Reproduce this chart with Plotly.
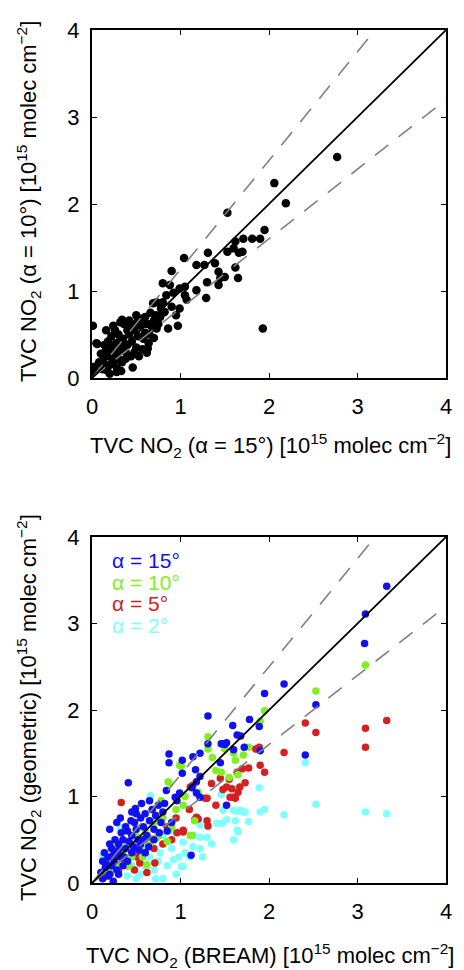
import plotly.graph_objects as go

# ---------------- data ----------------
# Top panel: TVC NO2 alpha=15 (x) vs alpha=10 (y)
top_x = [2.77, 2.06, 2.19, 1.53, 1.95, 1.90, 1.81, 1.71, 1.62, 1.60, 1.53, 1.70, 1.66, 1.31, 1.04,
         1.39, 1.18, 1.27, 1.62, 0.90, 1.43, 1.50, 1.45, 1.65, 1.30, 1.43, 0.80, 0.88, 0.99, 1.05,
         1.18, 1.05, 1.29, 1.07, 0.80, 0.69, 0.73, 0.90, 0.80, 0.99, 0.82, 1.93, 0.01, 0.97, 0.86,
         0.73, 0.32, 0.51, 0.34, 0.06, 0.63, 0.28, 0.17, 0.03, 0.05, 0.62, 0.01,
         0.12, 0.15, 0.18, 0.20, 0.22, 0.25, 0.27, 0.30, 0.32, 0.35, 0.38, 0.40, 0.42, 0.45, 0.48,
         0.50, 0.52, 0.55, 0.58, 0.60, 0.62, 0.65, 0.68, 0.70, 0.72, 0.75, 0.66, 0.60, 0.55, 0.45,
         0.40, 0.36, 0.30, 0.26, 0.22, 0.18, 0.14, 0.10, 0.08, 0.12, 0.20, 0.24, 0.28, 0.34, 0.38,
         0.44, 0.48, 0.53, 0.57, 0.46, 0.33, 0.16, 0.24, 0.42, 0.50, 0.78, 0.84, 0.92, 0.95, 0.77,
         0.64, 0.70, 0.36, 0.29, 0.21, 0.26, 0.31, 0.19, 0.13]
top_y = [2.54, 2.24, 2.01, 1.90, 1.70, 1.60, 1.60, 1.60, 1.57, 1.49, 1.45, 1.45, 1.44, 1.44, 1.38,
         1.32, 1.30, 1.30, 1.27, 1.23, 1.22, 1.16, 1.15, 1.15, 1.10, 1.07, 1.09, 1.07, 1.03, 1.05,
         1.01, 0.95, 0.92, 0.90, 0.87, 0.86, 0.87, 0.82, 0.75, 0.80, 0.76, 0.57, 0.60, 0.60, 0.57,
         0.57, 0.64, 0.64, 0.67, 0.39, 0.34, 0.07, 0.09, 0.13, 0.40, 0.29, 0.07,
         0.20, 0.30, 0.25, 0.15, 0.35, 0.28, 0.40, 0.22, 0.33, 0.45, 0.30, 0.38, 0.50, 0.42, 0.55,
         0.35, 0.48, 0.60, 0.45, 0.52, 0.62, 0.50, 0.58, 0.66, 0.72, 0.62, 0.75, 0.70, 0.68, 0.60,
         0.55, 0.62, 0.50, 0.55, 0.48, 0.42, 0.38, 0.28, 0.18, 0.10, 0.05, 0.18, 0.12, 0.18, 0.22,
         0.25, 0.30, 0.25, 0.33, 0.12, 0.08, 0.55, 0.60, 0.66, 0.72, 0.80, 0.95, 0.98, 0.72, 0.70,
         0.40, 0.46, 0.40, 0.30, 0.26, 0.22, 0.42, 0.33, 0.16]

# Bottom panel: TVC NO2 BREAM (x) vs geometric (y) for four elevation angles
b15_x = [3.33, 3.09, 3.08, 2.17, 1.95, 2.53, 1.31, 1.78, 1.89, 1.59, 2.41, 1.64, 1.68, 1.72, 1.90,
         1.46, 1.50, 1.45, 1.60, 0.87, 0.87, 1.02, 1.14, 1.22, 1.17, 1.02, 1.22, 1.18, 1.13, 0.84,
         0.99, 0.94, 1.18, 1.22, 0.41, 0.49, 1.52, 1.12, 0.82, 0.96, 0.24, 1.31, 1.47, 1.52,
         0.10, 0.12, 0.15, 0.18, 0.20, 0.22, 0.25, 0.27, 0.30, 0.32, 0.35, 0.38, 0.40, 0.42, 0.45,
         0.48, 0.50, 0.52, 0.55, 0.58, 0.60, 0.62, 0.65, 0.68, 0.70, 0.72, 0.75, 0.78, 0.80, 0.55,
         0.45, 0.35, 0.28, 0.18, 0.14, 0.20, 0.26, 0.33, 0.38, 0.44, 0.50, 0.58, 0.64, 0.70, 0.76,
         0.85, 0.90, 0.16, 0.24, 0.30, 0.36, 0.40, 0.47, 0.53, 0.60, 0.12, 0.22, 0.30, 0.65, 0.56,
         0.45, 0.32, 0.20, 0.28]
b15_y = [3.43, 3.11, 2.77, 2.30, 2.19, 2.06, 1.93, 1.89, 1.81, 1.82, 1.48, 1.71, 1.70, 1.57, 1.53,
         1.61, 1.60, 1.39, 1.54, 1.49, 1.39, 1.42, 1.46, 1.50, 1.31, 1.27, 1.23, 1.17, 1.10, 1.07,
         1.04, 0.99, 1.04, 0.99, 1.16, 0.86, 0.90, 0.32, 0.92, 0.95, 0.02, 1.61, 1.61, 1.62,
         0.12, 0.25, 0.18, 0.30, 0.10, 0.40, 0.25, 0.35, 0.45, 0.30, 0.50, 0.40, 0.60, 0.48, 0.55,
         0.70, 0.62, 0.50, 0.75, 0.65, 0.80, 0.55, 0.72, 0.85, 0.62, 0.78, 0.90, 0.70, 0.82, 0.45,
         0.35, 0.20, 0.15, 0.08, 0.35, 0.45, 0.50, 0.58, 0.65, 0.72, 0.80, 0.50, 0.42, 0.50, 0.58,
         0.60, 0.70, 0.22, 0.32, 0.38, 0.30, 0.25, 0.42, 0.38, 0.35, 0.05, 0.20, 0.10, 0.95, 0.92,
         0.82, 0.75, 0.62, 0.70]

b10_x = [3.09, 2.53, 1.95, 1.90, 1.62, 1.71, 1.77, 1.31, 1.31, 1.46, 1.65, 1.55, 1.01, 0.87, 1.03,
         0.86, 0.99, 1.11, 0.26, 0.62, 0.73, 0.90, 1.13, 1.60, 1.36, 0.40, 0.50, 0.55, 0.35, 0.45,
         0.30, 0.20, 0.15, 0.60, 0.70, 0.80, 0.65, 0.75, 0.25, 0.18, 0.95, 1.05, 1.20, 1.40, 0.78,
         0.68, 1.16, 0.85, 0.57, 0.42, 0.12, 1.50]
b10_y = [2.52, 2.22, 1.99, 1.87, 1.42, 1.48, 1.57, 1.69, 1.55, 1.28, 1.25, 1.22, 1.35, 1.16, 0.90,
         1.17, 1.36, 0.55, 0.29, 0.21, 0.52, 0.64, 0.55, 1.50, 1.45, 0.45, 0.55, 0.40, 0.35, 0.30,
         0.20, 0.18, 0.12, 0.60, 0.70, 0.75, 0.45, 0.55, 0.40, 0.28, 0.85, 1.00, 1.05, 1.30, 0.95,
         0.85, 0.72, 0.48, 0.30, 0.20, 0.08, 1.55]

b5_x = [3.33, 3.09, 3.09, 2.41, 2.53, 2.17, 1.89, 1.85, 1.90, 1.95, 1.77, 1.73, 1.67, 1.64, 1.45,
        1.52, 1.60, 1.56, 1.65, 1.58, 1.48, 1.62, 1.30, 1.28, 1.14, 1.11, 0.33, 1.31, 1.03, 1.03,
        1.18, 1.20, 1.16, 1.30, 0.96, 1.03, 0.54, 0.71, 0.51, 0.40, 0.30, 0.20, 0.60, 0.70, 0.80,
        0.90, 0.85, 0.75, 0.65, 0.45, 0.35, 0.25, 0.15, 1.40, 1.35, 1.55, 1.70, 0.95, 1.10, 0.62,
        0.48]
b5_y = [1.88, 1.79, 1.57, 1.85, 1.74, 1.51, 1.57, 1.55, 1.36, 1.28, 1.33, 1.16, 1.11, 1.28, 1.21,
        1.11, 0.99, 0.99, 1.05, 1.09, 1.08, 0.98, 0.98, 0.98, 1.13, 1.11, 0.93, 0.66, 0.59, 0.61,
        0.76, 0.74, 0.73, 0.72, 0.58, 0.60, 0.23, 0.23, 0.30, 0.20, 0.15, 0.10, 0.35, 0.40, 0.45,
        0.50, 0.65, 0.55, 0.50, 0.35, 0.28, 0.20, 0.08, 0.90, 1.15, 1.20, 1.32, 0.75, 0.85, 0.12,
        0.15]

b2_x = [2.41, 2.53, 3.09, 3.33, 2.17, 1.89, 1.90, 1.95, 1.67, 1.60, 1.73, 1.46, 0.66, 1.64, 1.60,
        1.77, 1.22, 1.03, 1.01, 0.92, 1.71, 1.64, 1.62, 1.65, 1.52, 1.47, 1.48, 1.31, 1.30, 1.22,
        1.14, 1.03, 1.05, 1.22, 1.41, 0.32, 0.12, 0.54, 0.60, 0.65, 0.70, 0.75, 0.77, 0.80, 0.85,
        0.90, 0.95, 0.50, 0.40, 0.30, 0.20, 0.45, 0.58, 0.68, 0.80, 0.88, 0.98, 1.10, 1.15, 0.72,
        0.35, 0.25, 0.15, 1.35, 1.25]
b2_y = [1.39, 0.91, 0.82, 0.80, 0.79, 1.10, 0.82, 0.85, 0.84, 0.84, 0.82, 1.02, 1.01, 0.61, 0.50,
        0.71, 0.53, 0.47, 0.19, 0.27, 0.82, 0.83, 0.72, 0.59, 0.73, 0.69, 0.84, 0.65, 0.53, 0.40,
        0.42, 0.19, 0.35, 0.67, 0.69, 0.64, 0.32, 0.10, 0.20, 0.30, 0.15, 0.25, 0.35, 0.05, 0.20,
        0.40, 0.10, 0.05, 0.08, 0.12, 0.15, 0.20, 0.40, 0.50, 0.55, 0.60, 0.30, 0.30, 0.55, 0.05,
        0.40, 0.30, 0.25, 0.45, 0.30]

line_x = [0, 4]
one_to_one = [0, 4]
upper_env = [0, 5.0]   # slope 1.25
lower_env = [0, 3.2]   # slope 0.8

tick_vals = [0, 1, 2, 3, 4]
legend_labels = ["α = 15°", "α = 10°", "α = 5°", "α = 2°"]

# ---------------- figure ----------------
W, H = 464, 970
FONT = "Liberation Sans, Arial, Helvetica, sans-serif"
C15, C10, C5, C2 = "#1010F0", "#80F020", "#D42020", "#80FFFF"

fig = go.Figure()


def add_lines(xa, ya):
    fig.add_trace(go.Scatter(x=line_x, y=upper_env, mode="lines", xaxis=xa, yaxis=ya,
                             line=dict(color="#808080", width=1.6, dash="17px,13px"),
                             showlegend=False, hoverinfo="skip"))
    fig.add_trace(go.Scatter(x=line_x, y=lower_env, mode="lines", xaxis=xa, yaxis=ya,
                             line=dict(color="#808080", width=1.6, dash="17px,13px"),
                             showlegend=False, hoverinfo="skip"))
    fig.add_trace(go.Scatter(x=line_x, y=one_to_one, mode="lines", xaxis=xa, yaxis=ya,
                             line=dict(color="black", width=1.8),
                             showlegend=False, hoverinfo="skip"))


fig.add_trace(go.Scatter(x=top_x, y=top_y, mode="markers", xaxis="x", yaxis="y",
                         marker=dict(color="black", size=8.5), showlegend=False))
add_lines("x", "y")

for xs, ys, c in [(b2_x, b2_y, C2), (b5_x, b5_y, C5), (b10_x, b10_y, C10), (b15_x, b15_y, C15)]:
    fig.add_trace(go.Scatter(x=xs, y=ys, mode="markers", xaxis="x2", yaxis="y2",
                             marker=dict(color=c, size=7.5), showlegend=False))
add_lines("x2", "y2")

axis_common = dict(range=[0, 4], tickvals=tick_vals, ticks="inside", ticklen=5, tickwidth=1.2,
                   tickcolor="black", showline=True, linecolor="black", linewidth=2,
                   mirror="allticks", showgrid=False, zeroline=False, automargin=False,
                   tickfont=dict(family=FONT, size=22, color="black"),
                   fixedrange=True)

xd = [92 / W, 446 / W]
fig.update_layout(
    width=W, height=H,
    margin=dict(l=0, r=0, t=0, b=0, autoexpand=False),
    paper_bgcolor="white", plot_bgcolor="white",
    xaxis=dict(domain=xd, anchor="y", ticklabelstandoff=8, **axis_common),
    yaxis=dict(domain=[1 - 378 / H, 1 - 30 / H], anchor="x", ticklabelstandoff=6, **axis_common),
    xaxis2=dict(domain=xd, anchor="y2", ticklabelstandoff=8, **axis_common),
    yaxis2=dict(domain=[1 - 883 / H, 1 - 537 / H], anchor="x2", ticklabelstandoff=6, **axis_common),
)

title_font = dict(family=FONT, size=22, color="black")
ann = [
    dict(text="TVC NO<sub>2</sub> (α = 15°) [10<sup>15</sup> molec cm<sup>−2</sup>]",
         x=270 / W, y=1 - 446 / H, textangle=0),
    dict(text="TVC NO<sub>2</sub> (α = 10°) [10<sup>15</sup> molec cm<sup>−2</sup>]",
         x=28 / W, y=1 - 202 / H, textangle=-90),
    dict(text="TVC NO<sub>2</sub> (BREAM) [10<sup>15</sup> molec cm<sup>−2</sup>]",
         x=270 / W, y=1 - 955 / H, textangle=0),
    dict(text="TVC NO<sub>2</sub> (geometric) [10<sup>15</sup> molec cm<sup>−2</sup>]",
         x=28 / W, y=1 - 708 / H, textangle=-90),
]
for a in ann:
    fig.add_annotation(xref="paper", yref="paper", xanchor="center", yanchor="middle",
                       showarrow=False, font=title_font, **a)

leg_colors = [C15, C10, C5, C2]
leg_y = [560, 582, 603, 625]
for lab, c, py in zip(legend_labels, leg_colors, leg_y):
    fig.add_annotation(xref="paper", yref="paper", x=110 / W, y=1 - py / H,
                       xanchor="left", yanchor="middle", showarrow=False, text=lab,
                       font=dict(family=FONT, size=21, color=c))

fig.write_html("out.html", config={"displayModeBar": False},
               post_script="document.body.style.margin='0';document.body.style.overflow='hidden';")
